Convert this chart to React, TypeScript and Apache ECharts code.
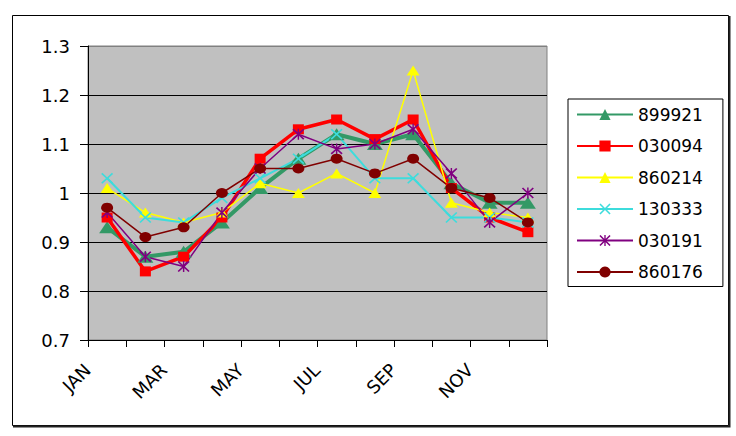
import React, { useEffect, useRef } from "react";
import * as echarts from "echarts";

const months = ["JAN", "FEB", "MAR", "APR", "MAY", "JUN", "JUL", "AUG", "SEP", "OCT", "NOV", "DEC"];
const seriesNames = ["899921", "030094", "860214", "130333", "030191", "860176"];
const s899921 = [0.93, 0.87, 0.88, 0.94, 1.01, 1.07, 1.12, 1.1, 1.12, 1.02, 0.98, 0.98];
const s030094 = [0.95, 0.84, 0.87, 0.95, 1.07, 1.13, 1.15, 1.11, 1.15, 1.01, 0.95, 0.92];
const s860214 = [1.01, 0.96, 0.94, 0.96, 1.02, 1.0, 1.04, 1.0, 1.25, 0.98, 0.96, 0.95];
const s130333 = [1.03, 0.95, 0.94, 0.99, 1.03, 1.07, 1.12, 1.03, 1.03, 0.95, 0.95, 0.94];
const s030191 = [0.96, 0.87, 0.85, 0.96, 1.05, 1.12, 1.09, 1.1, 1.13, 1.04, 0.94, 1.0];
const s860176 = [0.97, 0.91, 0.93, 1.0, 1.05, 1.05, 1.07, 1.04, 1.07, 1.01, 0.99, 0.94];
const yMin = 0.7;
const yMax = 1.3;
const yStep = 0.1;

const FONT = "DejaVu Sans";
const X_PATH = "path://M0,1L1,0L5,4L9,0L10,1L6,5L10,9L9,10L5,6L1,10L0,9L4,5Z";
const STAR_PATH =
  "path://M0,1L1,0L5,4L9,0L10,1L6,5L10,9L9,10L5,6L1,10L0,9L4,5Z M4.4,0L5.6,0L5.6,10L4.4,10Z";

export default function App() {
  const ref = useRef<HTMLDivElement>(null);
  useEffect(() => {
    if (!ref.current) return;
    const chart = echarts.init(ref.current, null, { renderer: "svg" });
    const mk = (
      name: string,
      data: number[],
      color: string,
      width: number,
      symbol: string,
      size: number[]
    ) => ({
      name,
      type: "line",
      data,
      symbol,
      symbolSize: size,
      showSymbol: true,
      lineStyle: { color, width },
      itemStyle: { color, borderWidth: 0 },
      emphasis: { disabled: true },
    });
    chart.setOption({
      animation: false,
      backgroundColor: "#ffffff",
      graphic: [
        {
          type: "rect",
          shape: { x: 12.5, y: 15.5, width: 716, height: 410 },
          style: { fill: "none", stroke: "#000", lineWidth: 1 },
          z: 0,
        },
        {
          type: "polyline",
          shape: { points: [[729.5, 16], [729.5, 426.5], [13, 426.5]] },
          style: { fill: "none", stroke: "#222", lineWidth: 2 },
          z: 0,
        },
      ],
      grid: {
        left: 88,
        right: 189,
        top: 46,
        bottom: 96,
        show: true,
        backgroundColor: "#C0C0C0",
        borderColor: "#808080",
        borderWidth: 1,
      },
      legend: {
        data: seriesNames,
        orient: "vertical",
        left: 568,
        top: 99,
        padding: [7, 20, 6, 8],
        itemWidth: 56,
        itemHeight: 14,
        itemGap: 14.5,
        borderColor: "#000",
        borderWidth: 1,
        backgroundColor: "#fff",
        textStyle: { fontFamily: FONT, fontSize: 17, color: "#000" },
        selectedMode: false,
      },
      xAxis: {
        type: "category",
        data: months,
        boundaryGap: true,
        axisLine: { lineStyle: { color: "#000", width: 1 } },
        axisTick: { show: true, interval: 0, length: 7, lineStyle: { color: "#000" } },
        axisLabel: {
          interval: 1,
          rotate: 45,
          margin: 7,
          padding: [0, 28, 0, 0],
          fontFamily: FONT,
          fontSize: 18,
          color: "#000",
        },
        splitLine: { show: false },
      },
      yAxis: {
        type: "value",
        min: yMin,
        max: yMax,
        interval: yStep,
        axisLine: { show: true, lineStyle: { color: "#000", width: 1 } },
        axisTick: { show: true, length: 8, lineStyle: { color: "#000" } },
        axisLabel: {
          margin: 18,
          fontFamily: FONT,
          fontSize: 18,
          color: "#000",
          formatter: (v: number) => String(Math.round(v * 10) / 10),
        },
        splitLine: {
          show: true,
          lineStyle: {
            color: ["#000", "#000", "#000", "#000", "#000", "#000", "#808080"],
            width: 1,
          },
        },
      },
      series: [
        mk(seriesNames[0], s899921, "#339966", 4, "triangle", [16, 12]),
        mk(seriesNames[1], s030094, "#FF0000", 3.5, "rect", [11, 10]),
        mk(seriesNames[2], s860214, "#FFFF00", 1.5, "triangle", [13, 10]),
        mk(seriesNames[3], s130333, "#3DDCDC", 2, X_PATH, [12, 11]),
        mk(seriesNames[4], s030191, "#800080", 1.5, STAR_PATH, [12, 11]),
        mk(seriesNames[5], s860176, "#800000", 1.5, "circle", [12, 10]),
      ],
    });
    return () => chart.dispose();
  }, []);
  return (
    <div
      ref={ref}
      style={{ position: "fixed", left: 0, top: 0, width: 736, height: 436 }}
    />
  );
}
